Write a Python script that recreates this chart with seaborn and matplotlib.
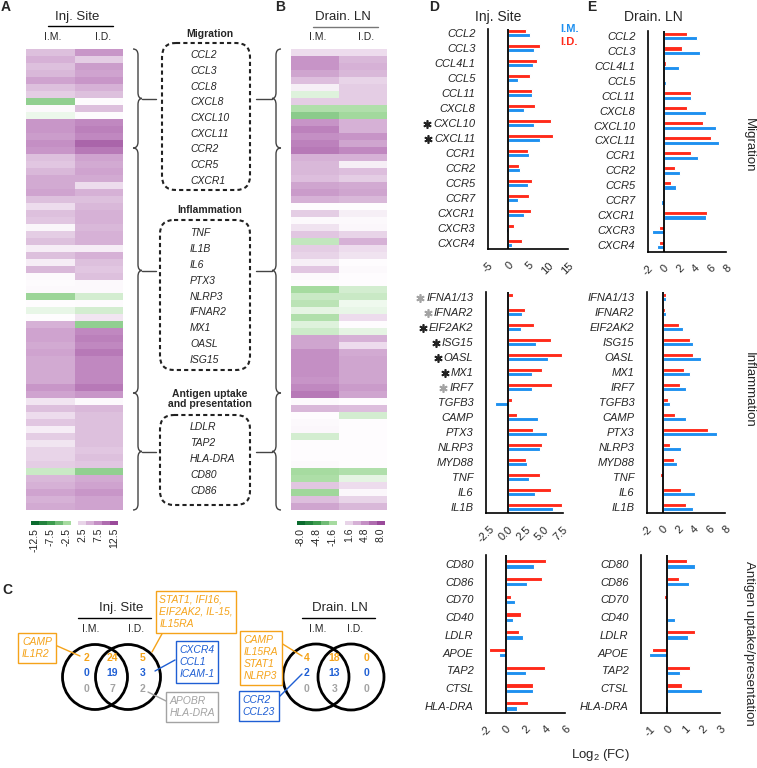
import matplotlib
matplotlib.use("Agg")
import matplotlib.pyplot as plt
import numpy as np
import pandas as pd
import seaborn as sns
from matplotlib.colors import LinearSegmentedColormap, Normalize
from matplotlib.patches import Circle, FancyBboxPatch, PathPatch
from matplotlib.path import Path

sns.set_theme(style="white", context="paper")
plt.rcParams["font.family"] = ["Liberation Sans", "DejaVu Sans"]
plt.rcParams["mathtext.default"] = "regular"

W, H = 757, 768

# ---- heatmap rows (log2 FC), top to bottom ----
inj_im = [4, 5, 4, 4.5, 6, 4, 3, -3.5, 0.3, -0.5, 7, 7, 6.5, 7.5, 7, 4, 3.5, 4.5, 5.5, 5.5,
          6, 4, 2, 4, 3.5, 0.5, 3, 4, 1, 4, 1, 4.5, 0.3, 0.2, 0.3, -3, 0.1, -0.6, 0.1, 5,
          6, 6, 5.5, 6, 5.5, 5.5, 5.5, 5.5, 7, 6, 1.5, 4, 2, 3.5, 1, 3, 1.5, 2.5, 2.5, 3,
          -1.5, 4.5, 5, 6, 5, 5.5]
inj_id = [7, 3, 6.5, 6, 7, 5, 4, 0.2, 4, 0.2, 8, 8.5, 8, 10.5, 9, 6, 5.5, 6, 5.5, 2,
          5, 4, 4.5, 5, 5, 4.5, 5, 5, 1, 5, 4, 3.5, 4, 0.3, 0.3, -1.2, 0.2, -1.2, 1.5, -3.5,
          8, 8.5, 8, 9, 8, 8, 8, 8, 9, 7, 0.3, 4.5, 4, 4, 4, 4, 4, 3.5, 4, 3.5,
          -3.5, 5.5, 6, 7, 6, 6]
ln_im = [1.3, 4.5, 4.5, 3.8, 2.6, 0.6, -0.6, 1.9, -1.4, -2.4, 4.5, 5.4, 4.8, 5.4, 5.8, 3.2,
         2.9, 2.9, 2.6, 3.8, 4.2, 3.2, 0.1, 1.9, 0.2, 1.0, 2.2, -1.1, 1.9, 1.6, 0.6, 2.2,
         0.2, 0.1, -1.6, -1.0, -1.2, -0.5, -1.4, -0.6, -0.9, 3.8, 3.8, 4.8, 4.8, 4.8, 4.8,
         4.5, 5.1, 5.8, 0.2, 2.9, 0.1, 0.2, 0.3, -0.8, 0.1, 0.1, 0.1, 0.2, -1.6, -1.5, 2.2,
         -1.8, 2.6, 3.8]
ln_id = [1.3, 2.9, 3.2, 2.9, 1.6, 1.9, 1.9, 1.9, -1.4, -1.7, 3.2, 3.2, 4.5, 3.8, 5.1, 3.2,
         0.6, 2.6, 1.9, 3.5, 3.8, 2.9, 0.1, 0.6, 0.2, 0.3, 1.6, 3.2, 1.3, 1.0, 0.1, 0.2,
         0.1, 0.1, -0.8, -1.0, -0.3, -0.4, 1.3, 0.1, -0.5, 3.2, 1.3, 3.5, 3.8, 3.8, 3.8,
         3.8, 4.2, 3.8, 0.1, 2.6, -0.8, 0.1, 0.1, 0.1, 0.1, 0.1, 0.1, 0.1, -1.4, -0.5, 1.3,
         0.3, 1.6, 2.9]

cbar_a_bins = [-12.5, -10, -7.5, -5, -2.5, 2.5, 5, 7.5, 10, 12.5]
cbar_a_ticks = [-12.5, -7.5, -2.5, 2.5, 7.5, 12.5]
cbar_b_bins = [-8.0, -6.4, -4.8, -3.2, -1.6, 1.6, 3.2, 4.8, 6.4, 8.0]
cbar_b_ticks = [-8.0, -4.8, -1.6, 1.6, 4.8, 8.0]

# ---- box gene lists ----
box_mig = ["CCL2", "CCL3", "CCL8", "CXCL8", "CXCL10", "CXCL11", "CCR2", "CCR5", "CXCR1"]
box_inf = ["TNF", "IL1B", "IL6", "PTX3", "NLRP3", "IFNAR2", "MX1", "OASL", "ISG15"]
box_ant = ["LDLR", "TAP2", "HLA-DRA", "CD80", "CD86"]

# ---- bar charts ----
mig_genes = ["CCL2", "CCL3", "CCL4L1", "CCL5", "CCL11", "CXCL8", "CXCL10", "CXCL11",
             "CCR1", "CCR2", "CCR5", "CCR7", "CXCR1", "CXCR3", "CXCR4"]
inf_genes = ["IFNA1/13", "IFNAR2", "EIF2AK2", "ISG15", "OASL", "MX1", "IRF7", "TGFB3",
             "CAMP", "PTX3", "NLRP3", "MYD88", "TNF", "IL6", "IL1B"]
ant_genes = ["CD80", "CD86", "CD70", "CD40", "LDLR", "APOE", "TAP2", "CTSL", "HLA-DRA"]

d_mig_id = [4.6, 7.9, 7.2, 5.4, 6.0, 6.7, 10.7, 11.2, 5.0, 2.8, 6.1, 5.2, 5.8, 1.4, 3.4]
d_mig_im = [5.5, 6.5, 6.2, 2.6, 6.0, 4.0, 6.6, 7.9, 5.3, 2.9, 5.0, 2.5, 4.1, -0.4, 0.9]
d_inf_id = [0.7, 2.4, 3.65, 5.9, 7.45, 4.7, 6.1, 0.55, 1.3, 3.5, 4.7, 2.55, 4.4, 5.9, 7.45]
d_inf_im = [0.0, 2.0, 1.8, 3.9, 5.5, 3.3, 3.4, -1.8, 4.1, 5.4, 4.5, 2.6, 2.9, 3.7, 6.2]
d_ant_id = [4.1, 3.65, 0.55, 1.5, 1.3, -1.7, 3.95, 2.75, 2.3]
d_ant_im = [2.9, 2.15, 0.95, 0.7, 1.7, -0.7, 2.0, 2.75, 1.15]

e_mig_id = [3.05, 2.3, 0.3, 0.0, 3.5, 3.0, 5.1, 6.1, 3.55, 1.45, 0.95, -0.1, 5.6, -0.55, -0.55]
e_mig_im = [4.25, 4.65, 2.0, 0.3, 3.5, 5.4, 6.75, 7.15, 4.4, 2.1, 1.65, -0.3, 5.4, -1.5, -0.9]
e_inf_id = [0.4, 0.35, 2.1, 3.45, 3.9, 2.8, 2.2, 0.7, 1.65, 5.85, 0.9, 1.45, -0.35, 2.3, 3.05]
e_inf_im = [0.4, 0.45, 2.65, 3.95, 4.9, 3.5, 2.95, 1.0, 3.0, 7.0, 2.4, 1.85, 0.0, 4.2, 3.95]
e_ant_id = [1.1, 0.65, -0.2, -0.05, 1.55, -0.9, 1.3, 0.85, 0.0]
e_ant_im = [1.55, 1.25, 0.0, 0.45, 1.15, -1.05, 0.7, 1.95, -0.15]

# significance marks next to gene names
d_mig_stars = {"CXCL10": "#222222", "CXCL11": "#222222"}
d_inf_stars = {"IFNA1/13": "#a3a3a3", "IFNAR2": "#a3a3a3", "EIF2AK2": "#222222",
               "ISG15": "#222222", "OASL": "#222222", "MX1": "#222222", "IRF7": "#a3a3a3"}

# ---- venn counts: [I.M. only, shared, I.D. only] ----
inj_orange = [2, 24, 5]
inj_blue = [0, 19, 3]
inj_gray = [0, 7, 2]
ln_orange = [4, 18, 0]
ln_blue = [2, 13, 0]
ln_gray = [0, 3, 0]

RED = "#ff2a1a"
BLUE = "#1e90f0"
ORANGE = "#f5a31a"
VBLUE = "#1f5fd4"
GRAY = "#a3a3a3"

cmap = LinearSegmentedColormap.from_list(
    "gp", [(0, "#0b6b2e"), (0.2, "#3d9c4e"), (0.4, "#a6dba0"), (0.5, "#ffffff"),
           (0.6, "#e8d4e8"), (0.8, "#c48fc4"), (1.0, "#9a4a9a")])

fig = plt.figure(figsize=(W / 100, H / 100), dpi=100)


def px_axes(x0, y0, x1, y1):
    return fig.add_axes([x0 / W, 1 - y1 / H, (x1 - x0) / W, (y1 - y0) / H])


def draw_heat(x0, x1, im, idv, vmax):
    ax = px_axes(x0, 49, x1, 510)
    df = pd.DataFrame({"I.M.": im, "I.D.": idv})
    sns.heatmap(df, ax=ax, cmap=cmap, vmin=-vmax, vmax=vmax, cbar=False,
                xticklabels=False, yticklabels=False)


def draw_cbar(x0, x1, bins, ticks, vmax):
    ax = px_axes(x0, 521, x1, 525)
    step = bins[1] - bins[0]
    norm = Normalize(-vmax, vmax)
    ax.bar(bins, 1, width=step, color=cmap(norm(np.array(bins))), linewidth=0)
    lim = bins[-1] + step / 2
    ax.set_xlim(-lim, lim)
    ax.set_ylim(0, 1)
    ax.set_yticks([])
    ax.set_xticks(ticks)
    ax.set_xticklabels([f"{t:g}" if vmax > 10 else f"{t:.1f}" for t in ticks],
                       rotation=90, fontsize=7.5)
    ax.tick_params(axis="x", length=0, pad=2)
    for s in ax.spines.values():
        s.set_visible(False)


draw_heat(26, 123, inj_im, inj_id, 12.5)
draw_heat(291, 387, ln_im, ln_id, 8.0)
draw_cbar(31, 118, cbar_a_bins, cbar_a_ticks, 12.5)
draw_cbar(297, 385, cbar_b_bins, cbar_b_ticks, 8.0)

star_jobs = []


def draw_bars(box, genes, id_vals, im_vals, xlim, ticks, ticklabels, ylim, width, gap, stars=None):
    ax = px_axes(*box)
    df = pd.DataFrame({"gene": genes * 2,
                       "group": ["I.D."] * len(genes) + ["I.M."] * len(genes),
                       "value": list(id_vals) + list(im_vals)})
    sns.barplot(data=df, y="gene", x="value", hue="group", order=genes,
                hue_order=["I.D.", "I.M."], palette=[RED, BLUE], orient="h",
                width=width, gap=gap, errorbar=None, legend=False, saturation=1, ax=ax)
    ax.axvline(0, color="black", lw=1.3, zorder=5)
    ax.set_xlim(xlim)
    ax.set_ylim(ylim)
    ax.set_xlabel("")
    ax.set_ylabel("")
    ax.set_xticks(ticks)
    ax.set_xticklabels(ticklabels, rotation=45, ha="right", rotation_mode="anchor", fontsize=8)
    ax.set_yticks(range(len(genes)))
    ax.set_yticklabels(genes, fontsize=8, fontstyle="italic")
    ax.tick_params(axis="y", length=7, width=1.2, pad=2, color="black")
    ax.tick_params(axis="x", length=6, width=1.2, pad=2, color="black")
    sns.despine(ax=ax)
    for s in ("left", "bottom"):
        ax.spines[s].set_linewidth(1.2)
        ax.spines[s].set_color("black")
    ax.set_facecolor("none")
    if stars:
        star_jobs.append((ax, genes, stars))
    return ax


draw_bars((488, 29, 568, 249), mig_genes, d_mig_id, d_mig_im, (-5, 15),
          [-5, 0, 5, 10, 15], ["-5", "0", "5", "10", "15"], (14.4, -0.27), 0.62, 0.1,
          stars=d_mig_stars)
draw_bars((486, 292, 563, 513), inf_genes, d_inf_id, d_inf_im, (-3, 7.6),
          [-2.5, 0, 2.5, 5, 7.5], ["-2.5", "0.0", "2.5", "5.0", "7.5"], (14.4, -0.33), 0.62, 0.1,
          stars=d_inf_stars)
draw_bars((486, 555, 565, 713), ant_genes, d_ant_id, d_ant_im, (-2, 6),
          [-2, 0, 2, 4, 6], ["-2", "0", "2", "4", "6"], (8.4, -0.5), 0.6, 0.2)
draw_bars((648, 31, 726, 252), mig_genes, e_mig_id, e_mig_im, (-2, 8),
          [-2, 0, 2, 4, 6, 8], ["-2", "0", "2", "4", "6", "8"], (14.47, -0.33), 0.62, 0.1)
draw_bars((647, 292, 725, 513), inf_genes, e_inf_id, e_inf_im, (-2, 8),
          [-2, 0, 2, 4, 6, 8], ["-2", "0", "2", "4", "6", "8"], (14.4, -0.33), 0.62, 0.1)
draw_bars((641, 555, 720, 713), ant_genes, e_ant_id, e_ant_im, (-1.5, 3),
          [-1, 0, 1, 2, 3], ["-1", "0", "1", "2", "3"], (8.4, -0.5), 0.6, 0.2)

# ---- overlay for annotations, in pixel coordinates ----
ov = fig.add_axes([0, 0, 1, 1])
ov.set_xlim(0, W)
ov.set_ylim(H, 0)
ov.axis("off")


def txt(x, y, s, **kw):
    kw.setdefault("ha", "center")
    kw.setdefault("va", "center")
    ov.text(x, y, s, **kw)


# panel letters
for letter, (x, y) in {"A": (6, 7), "B": (280, 7), "C": (7, 590), "D": (434, 7), "E": (592, 7)}.items():
    txt(x, y, letter, fontsize=10, fontweight="bold")

# heatmap headers
txt(77, 17, "Inj. Site", fontsize=9.5)
ov.plot([48, 113], [26, 26], color="black", lw=1)
txt(53, 37, "I.M.", fontsize=7.5)
txt(103, 37, "I.D.", fontsize=7.5)
txt(343, 17, "Drain. LN", fontsize=9.5)
ov.plot([313, 378], [27, 27], color="#777777", lw=1)
txt(318, 37, "I.M.", fontsize=7.5)
txt(366, 37, "I.D.", fontsize=7.5)

# braces and dashed gene boxes
brace_groups = [(49, 148), (148, 393), (393, 510)]


def brace(y0, y1, xc, xl, xt, r=6):
    ym = (y0 + y1) / 2
    verts = [(xc, y0), (xl, y0), (xl, y0 + r), (xl, ym - r), (xl, ym), (xt, ym),
             (xl, ym), (xl, ym + r), (xl, y1 - r), (xl, y1), (xc, y1)]
    codes = [Path.MOVETO, Path.CURVE3, Path.CURVE3, Path.LINETO, Path.CURVE3, Path.CURVE3,
             Path.CURVE3, Path.CURVE3, Path.LINETO, Path.CURVE3, Path.CURVE3]
    ov.add_patch(PathPatch(Path(verts, codes), fill=False, ec="#444444", lw=1))
    return ym


for y0, y1 in brace_groups:
    ym = brace(y0, y1, 133, 138, 142)
    ov.plot([142, 156], [ym, ym], color="#444444", lw=1)
    ym = brace(y0, y1, 281, 276, 272)
    ov.plot([256, 272], [ym, ym], color="#444444", lw=1)

boxes = [((162, 43, 250, 190), "Migration", 34, box_mig, 55, 181),
         ((160, 220, 250, 370), "Inflammation", 210, box_inf, 233, 360),
         ((160, 415, 250, 505), "Antigen uptake\nand presentation", 399, box_ant, 427, 491)]
for (x0, y0, x1, y1), title, ty, genes, g0, g1 in boxes:
    ov.add_patch(FancyBboxPatch((x0, y0), x1 - x0, y1 - y0,
                                boxstyle="round,pad=0,rounding_size=14", fill=False,
                                ec="#222222", lw=1.5, ls=(0, (2, 1.5))))
    txt(210, ty, title, fontsize=7.5, fontweight="bold", linespacing=1.1)
    for g, gy in zip(genes, np.linspace(g0, g1, len(genes))):
        txt(190, gy, g, fontsize=7.5, fontstyle="italic", ha="left")

# ---- panel C venn diagrams ----


def venn(c1, c2, cy, r, orange, blue, gray):
    for cx in (c1, c2):
        ov.add_patch(Circle((cx, cy), r, fill=False, ec="black", lw=2.0))
    xs = [c1 - 9, (c1 + c2) / 2 + 1, c2 + 15]
    for vals, col, yy in ((orange, ORANGE, 658), (blue, VBLUE, 673), (gray, GRAY, 689)):
        for x, v in zip(xs, vals):
            txt(x, yy, str(v), fontsize=7.5, fontweight="bold", color=col)


txt(121, 608, "Inj. Site", fontsize=9.5)
ov.plot([78, 151], [618, 618], color="black", lw=1)
txt(91, 629, "I.M.", fontsize=7.5)
txt(136, 629, "I.D.", fontsize=7.5)
venn(95, 128, 677, 32.5, inj_orange, inj_blue, inj_gray)

txt(340, 608, "Drain. LN", fontsize=9.5)
ov.plot([302, 375], [618, 618], color="black", lw=1)
txt(318, 629, "I.M.", fontsize=7.5)
txt(355, 629, "I.D.", fontsize=7.5)
venn(316, 351, 677, 33, ln_orange, ln_blue, ln_gray)

callouts = [("CAMP\nIL1R2", (37, 648), ORANGE, [(55, 645), (80, 656)]),
            ("STAT1, IFI16,\nEIF2AK2, IL-15,\nIL15RA", (196, 612), ORANGE, [(163, 632), (152, 652)]),
            ("CXCR4\nCCL1\nICAM-1", (197, 662), VBLUE, [(175, 660), (155, 671)]),
            ("APOBR\nHLA-DRA", (192, 707), GRAY, [(166, 701), (148, 692)]),
            ("CAMP\nIL15RA\nSTAT1\nNLRP3", (261, 658), ORANGE, [(281, 643), (302, 656)]),
            ("CCR2\nCCL23", (259, 706), VBLUE, [(278, 698), (302, 674)])]
for label, (x, y), col, line in callouts:
    (ax0, ay0), (ax1, ay1) = line
    ov.plot([ax0, ax1], [ay0, ay1], color=col, lw=1)
    txt(x, y, label, fontsize=7.5, fontstyle="italic", color=col, multialignment="left",
        linespacing=1.25, bbox=dict(boxstyle="square,pad=0.35", fc="white", ec=col, lw=1))

# ---- panel D/E texts ----
txt(498, 17, "Inj. Site", fontsize=10)
txt(653, 17, "Drain. LN", fontsize=10)
txt(560, 29, "I.M.", fontsize=8, fontweight="bold", color=BLUE, ha="left")
txt(560, 42, "I.D.", fontsize=8, fontweight="bold", color=RED, ha="left")
txt(749, 145, "Migration", fontsize=9.5, rotation=-90)
txt(749, 390, "Inflammation", fontsize=9.5, rotation=-90)
txt(749, 643, "Antigen uptake/presentation", fontsize=9.5, rotation=-90)
txt(601, 755, r"Log$_2$ (FC)", fontsize=9.5)

# asterisk marks placed just left of their gene labels
fig.canvas.draw()
to_ov = ov.transData.inverted()
for ax, genes, stars in star_jobs:
    labels = ax.get_yticklabels()
    for gene, col in stars.items():
        bb = labels[genes.index(gene)].get_window_extent()
        sx, sy = to_ov.transform((bb.x0 - 6, (bb.y0 + bb.y1) / 2))
        ov.plot(sx, sy, marker=(6, 2, 0), ms=6, mew=1.2, color=col, linestyle="none")

fig.savefig("out.png", dpi=100)
